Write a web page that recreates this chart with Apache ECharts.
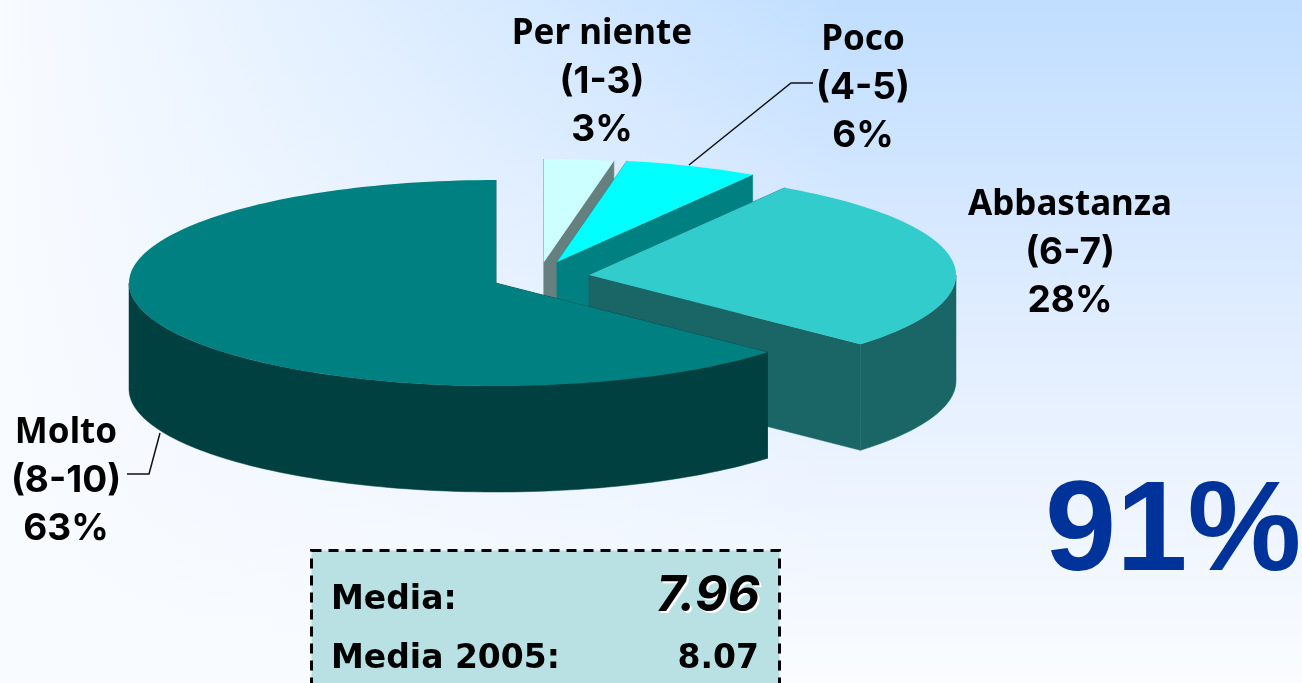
<!DOCTYPE html>
<html><head><meta charset="utf-8">
<style>html,body{margin:0;padding:0;background:#fff}#c{width:1302px;height:683px}</style>
<script src="https://cdn.jsdelivr.net/npm/echarts@6/dist/echarts.min.js"></script>
</head><body><div id="c"></div>
<script>
const categories = ['Per niente','Poco','Abbastanza','Molto'];
const ranges = ['(1-3)','(4-5)','(6-7)','(8-10)'];
const shares = [3.05,5.9,27.8,63.25];
const topColors = ['#CCFFFF','#00FFFF','#33CCCC','#008080'];
const wallColors = ['#668080','#008080','#1A6666','#004040'];
const satisfied = '91%';
const meanLabels = ['Media:','Media 2005:'];
const meanValues = ['7.96','8.07'];

const rx = 367, ry = 103, depth = 106;
const sliceCenters = [[544,262],[557,262],[589,275],[496,283]];
const labelAnchors = [[602,82],[863,88],[1070,253],[66,481]];
const total = shares.reduce((a,b)=>a+b,0);

function pt(c, deg, dy){
  const t = deg*Math.PI/180;
  return [c[0]+rx*Math.sin(t), c[1]-ry*Math.cos(t)+(dy||0)];
}
function arc(c, a0, a1, dy){
  const out=[], n=Math.max(2,Math.ceil(Math.abs(a1-a0)/1.5));
  for(let i=0;i<=n;i++) out.push(pt(c,a0+(a1-a0)*i/n,dy));
  return out;
}
function renderSlice(params, api){
  const i = params.dataIndex;
  const c = sliceCenters[i];
  let before = 0;
  for(let k=0;k<i;k++) before += shares[k];
  const a0 = before/total*360, a1 = a0+api.value(0)/total*360;
  const kids = [];
  const wall = pts => kids.push({type:'polygon',shape:{points:pts},style:{fill:wallColors[i],stroke:wallColors[i],lineWidth:0.5},z2:i*10});
  [a0,a1].forEach(a=>{
    const p = pt(c,a);
    wall([c,p,[p[0],p[1]+depth],[c[0],c[1]+depth]]);
  });
  const f0 = Math.max(a0,90), f1 = Math.min(a1,270);
  if(f1>f0) wall(arc(c,f0,f1,0).concat(arc(c,f1,f0,depth)));
  kids.push({type:'polygon',shape:{points:[c].concat(arc(c,a0,a1,0))},
    style:{fill:topColors[i]},z2:i*10+1});
  const lines = [
    [categories[i],'bold 35px "Noto Sans"',-48],
    [ranges[i],'bold 37px Inter',0],
    [Math.round(api.value(0))+'%','bold 37px Inter',48]
  ];
  lines.forEach(l=>kids.push({type:'text',z2:100,style:{
    x:labelAnchors[i][0],y:labelAnchors[i][1]+l[2],text:l[0],
    align:'center',verticalAlign:'middle',font:l[1],fill:'#000'}}));
  return {type:'group',children:kids};
}

const chart = echarts.init(document.getElementById('c'),null,{renderer:'canvas'});
chart.setOption({
  animation:false,
  backgroundColor:{type:'linear',x:0,y:0,x2:0,y2:683,global:true,colorStops:[
    {offset:0,color:'#C0DEFF'},{offset:0.5,color:'#E2EEFF'},{offset:1,color:'#FAFCFF'}]},
  series:[{type:'custom',coordinateSystem:'none',renderItem:renderSlice,data:shares.map(v=>[v]),silent:true}],
  graphic:[
    {type:'rect',silent:true,z:-1,shape:{x:0,y:0,width:1302,height:683},
      style:{fill:{type:'linear',x:0,y:0,x2:850,y2:0,global:true,colorStops:[
        {offset:0,color:'rgba(248,251,255,1)'},{offset:1,color:'rgba(248,251,255,0)'}]}}},
    {type:'polyline',shape:{points:[[689,165],[791,83],[813,83]]},style:{stroke:'#111',lineWidth:1.5,fill:null},z:5},
    {type:'polyline',shape:{points:[[160,433],[149,474],[127,474]]},style:{stroke:'#111',lineWidth:1.5,fill:null},z:5},
    {type:'rect',shape:{x:311.5,y:550.5,width:468,height:170},style:{fill:'#B9E0E3',stroke:'#000',lineWidth:3,lineDash:[10,7]},z:5},
    {type:'text',style:{x:331,y:600,text:meanLabels[0],font:'bold 33px "DejaVu Sans"',fill:'#000',verticalAlign:'middle'},z:6},
    {type:'text',style:{x:331,y:659,text:meanLabels[1],font:'bold 33px "DejaVu Sans"',fill:'#000',verticalAlign:'middle'},z:6},
    {type:'text',style:{x:762,y:598,text:meanValues[0],font:'italic bold 50px Inter',fill:'#fff',align:'right',verticalAlign:'middle'},z:6},
    {type:'text',style:{x:760,y:596,text:meanValues[0],font:'italic bold 50px Inter',fill:'#000',align:'right',verticalAlign:'middle'},z:7},
    {type:'text',style:{x:759,y:659,text:meanValues[1],font:'bold 33px "DejaVu Sans"',fill:'#000',align:'right',verticalAlign:'middle'},z:6},
    {type:'text',style:{x:1045,y:535,text:satisfied,font:'bold 128px "Liberation Sans"',fill:'#003399',verticalAlign:'middle'},z:6}
  ]
});
</script></body></html>
